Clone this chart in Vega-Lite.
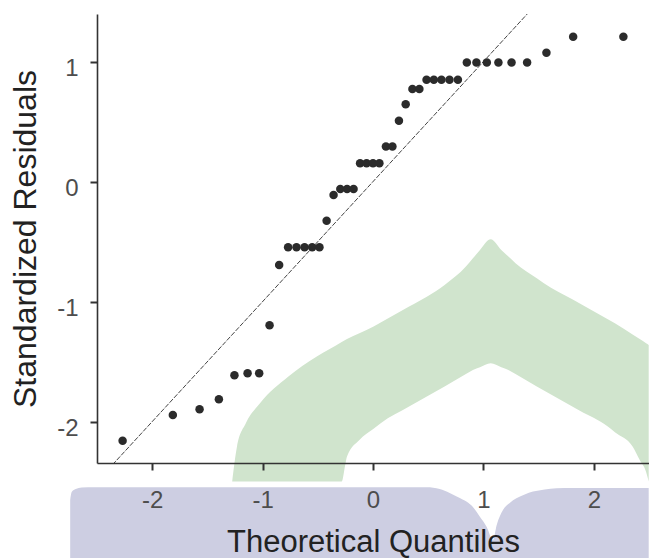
{
  "$schema": "https://vega.github.io/schema/vega-lite/v6.json",
  "width": 552,
  "height": 449,
  "autosize": {"type": "none"},
  "padding": {"left": 97, "top": 14, "right": 0, "bottom": 95},
  "background": "white",
  "config": {
    "view": {"stroke": null},
    "font": "Liberation Sans"
  },
  "datasets": {
    "residuals": [
      {"x": -2.268, "y": -2.16},
      {"x": -1.813, "y": -1.944},
      {"x": -1.571, "y": -1.897},
      {"x": -1.396, "y": -1.813},
      {"x": -1.255, "y": -1.613},
      {"x": -1.136, "y": -1.597},
      {"x": -1.031, "y": -1.597},
      {"x": -0.937, "y": -1.197},
      {"x": -0.850, "y": -0.694},
      {"x": -0.769, "y": -0.547},
      {"x": -0.693, "y": -0.547},
      {"x": -0.620, "y": -0.547},
      {"x": -0.551, "y": -0.547},
      {"x": -0.485, "y": -0.547},
      {"x": -0.420, "y": -0.327},
      {"x": -0.357, "y": -0.111},
      {"x": -0.296, "y": -0.061},
      {"x": -0.235, "y": -0.061},
      {"x": -0.176, "y": -0.061},
      {"x": -0.117, "y": 0.153},
      {"x": -0.058, "y": 0.153},
      {"x": 0.0, "y": 0.153},
      {"x": 0.058, "y": 0.153},
      {"x": 0.117, "y": 0.292},
      {"x": 0.176, "y": 0.292},
      {"x": 0.235, "y": 0.508},
      {"x": 0.296, "y": 0.645},
      {"x": 0.357, "y": 0.772},
      {"x": 0.420, "y": 0.772},
      {"x": 0.485, "y": 0.85},
      {"x": 0.551, "y": 0.85},
      {"x": 0.620, "y": 0.85},
      {"x": 0.693, "y": 0.85},
      {"x": 0.769, "y": 0.85},
      {"x": 0.850, "y": 0.992},
      {"x": 0.937, "y": 0.992},
      {"x": 1.031, "y": 0.992},
      {"x": 1.136, "y": 0.992},
      {"x": 1.255, "y": 0.992},
      {"x": 1.396, "y": 0.992},
      {"x": 1.571, "y": 1.075},
      {"x": 1.813, "y": 1.208},
      {"x": 2.268, "y": 1.208}
    ],
    "identity": [
      {"x": -2.6, "y": -2.6},
      {"x": 2.6, "y": 2.6}
    ],
    "green": [
      {"x": -1.2754, "y": -2.5, "y2": -2.5},
      {"x": -1.2319, "y": -2.2083, "y2": -2.5},
      {"x": -1.1522, "y": -2.0133, "y2": -2.5},
      {"x": -1.0236, "y": -1.8467, "y2": -2.5},
      {"x": -0.7663, "y": -1.625, "y2": -2.5},
      {"x": -0.5091, "y": -1.4583, "y2": -2.5},
      {"x": -0.2835, "y": -1.3367, "y2": -2.5},
      {"x": -0.2518, "y": -1.3192, "y2": -2.3625},
      {"x": -0.2355, "y": -1.3117, "y2": -2.2917},
      {"x": -0.1232, "y": -1.2633, "y2": -2.1525},
      {"x": 0.0054, "y": -1.2083, "y2": -2.06},
      {"x": 0.0697, "y": -1.175, "y2": -2.0133},
      {"x": 0.327, "y": -1.0417, "y2": -1.875},
      {"x": 0.6486, "y": -0.8608, "y2": -1.7083},
      {"x": 0.8415, "y": -0.7083, "y2": -1.6033},
      {"x": 0.9049, "y": -0.6392, "y2": -1.5692},
      {"x": 0.9692, "y": -0.5692, "y2": -1.5467},
      {"x": 1.0661, "y": -0.48, "y2": -1.5133},
      {"x": 1.1621, "y": -0.5692, "y2": -1.5467},
      {"x": 1.2264, "y": -0.625, "y2": -1.5692},
      {"x": 1.2908, "y": -0.68, "y2": -1.6042},
      {"x": 1.4837, "y": -0.805, "y2": -1.7083},
      {"x": 1.548, "y": -0.8467, "y2": -1.7417},
      {"x": 1.8052, "y": -0.98, "y2": -1.875},
      {"x": 1.8696, "y": -1.0133, "y2": -1.9083},
      {"x": 2.1268, "y": -1.1467, "y2": -2.0417},
      {"x": 2.1911, "y": -1.18, "y2": -2.0892},
      {"x": 2.3514, "y": -1.2742, "y2": -2.2083},
      {"x": 2.4158, "y": -1.3125, "y2": -2.3192},
      {"x": 2.4737, "y": -1.3467, "y2": -2.4192},
      {"x": 2.4973, "y": -1.3608, "y2": -2.5}
    ],
    "purple": [
      {"x": -2.7428, "y": -2.6525, "y2": -3.3},
      {"x": -2.7292, "y": -2.5858, "y2": -3.3},
      {"x": -2.6929, "y": -2.5608, "y2": -3.3},
      {"x": -2.6386, "y": -2.5483, "y2": -3.3},
      {"x": -2.5208, "y": -2.5467, "y2": -3.3},
      {"x": 0.4864, "y": -2.5467, "y2": -3.3},
      {"x": 0.6042, "y": -2.5608, "y2": -3.3},
      {"x": 0.6947, "y": -2.5942, "y2": -3.3},
      {"x": 0.7672, "y": -2.6275, "y2": -3.3},
      {"x": 0.846, "y": -2.6667, "y2": -3.3},
      {"x": 0.9121, "y": -2.7192, "y2": -3.3},
      {"x": 0.9665, "y": -2.7917, "y2": -3.3},
      {"x": 1.0299, "y": -2.8775, "y2": -3.3},
      {"x": 1.087, "y": -2.9858, "y2": -3.3},
      {"x": 1.1205, "y": -2.8608, "y2": -3.3},
      {"x": 1.1775, "y": -2.7358, "y2": -3.3},
      {"x": 1.2382, "y": -2.6775, "y2": -3.3},
      {"x": 1.2989, "y": -2.6383, "y2": -3.3},
      {"x": 1.3741, "y": -2.6067, "y2": -3.3},
      {"x": 1.4493, "y": -2.5833, "y2": -3.3},
      {"x": 1.5553, "y": -2.565, "y2": -3.3},
      {"x": 1.6612, "y": -2.555, "y2": -3.3},
      {"x": 1.8116, "y": -2.5525, "y2": -3.3},
      {"x": 2.4973, "y": -2.5525, "y2": -3.3}
    ]
  },
  "encoding": {
    "x": {
      "field": "x",
      "type": "quantitative",
      "scale": {"domain": [-2.5, 2.5], "nice": false, "zero": false},
      "axis": {
        "title": "Theoretical Quantiles",
        "values": [-2, -1, 0, 1, 2],
        "labelExpr": "'' + datum.value",
        "grid": false,
        "zindex": 1,
        "domainColor": "#333333",
        "domainWidth": 1.6,
        "tickColor": "#333333",
        "tickWidth": 2,
        "tickSize": 7,
        "labelFont": "Liberation Sans",
        "labelFontSize": 24,
        "labelColor": "#4d4d4d",
        "labelBaseline": "alphabetic",
        "labelPadding": 37,
        "labelFlush": false,
        "titleFont": "Liberation Sans",
        "titleFontSize": 31,
        "titleFontWeight": "normal",
        "titleColor": "#222222",
        "titleBaseline": "alphabetic",
        "titleX": 276,
        "titleY": 88
      }
    },
    "y": {
      "field": "y",
      "type": "quantitative",
      "scale": {"domain": [-2.345, 1.397], "nice": false, "zero": false},
      "axis": {
        "title": "Standardized Residuals",
        "values": [-2, -1, 0, 1],
        "labelExpr": "'' + datum.value",
        "grid": false,
        "zindex": 1,
        "domainColor": "#333333",
        "domainWidth": 1.6,
        "tickColor": "#333333",
        "tickWidth": 2,
        "tickSize": 7,
        "labelFont": "Liberation Sans",
        "labelFontSize": 24,
        "labelColor": "#4d4d4d",
        "labelBaseline": "alphabetic",
        "labelOffset": 13.5,
        "labelPadding": 12,
        "titleFont": "Liberation Sans",
        "titleFontSize": 32,
        "titleFontWeight": "normal",
        "titleColor": "#222222",
        "titleBaseline": "alphabetic",
        "titleAngle": 270,
        "titleX": -62,
        "titleY": 224.5
      }
    }
  },
  "layer": [
    {
      "data": {"name": "purple"},
      "mark": {"type": "area", "color": "#cdcee2", "clip": false, "interpolate": "monotone"},
      "encoding": {"y2": {"field": "y2"}}
    },
    {
      "data": {"name": "green"},
      "mark": {"type": "area", "color": "#d0e4cd", "clip": false, "interpolate": "monotone"},
      "encoding": {"y2": {"field": "y2"}}
    },
    {
      "data": {"name": "identity"},
      "mark": {"type": "line", "color": "#444444", "strokeWidth": 1, "strokeDash": [5, 1.5], "clip": true},
      "encoding": {}
    },
    {
      "data": {"name": "residuals"},
      "mark": {"type": "circle", "color": "#2b2b2b", "size": 72, "opacity": 1}
    }
  ]
}
